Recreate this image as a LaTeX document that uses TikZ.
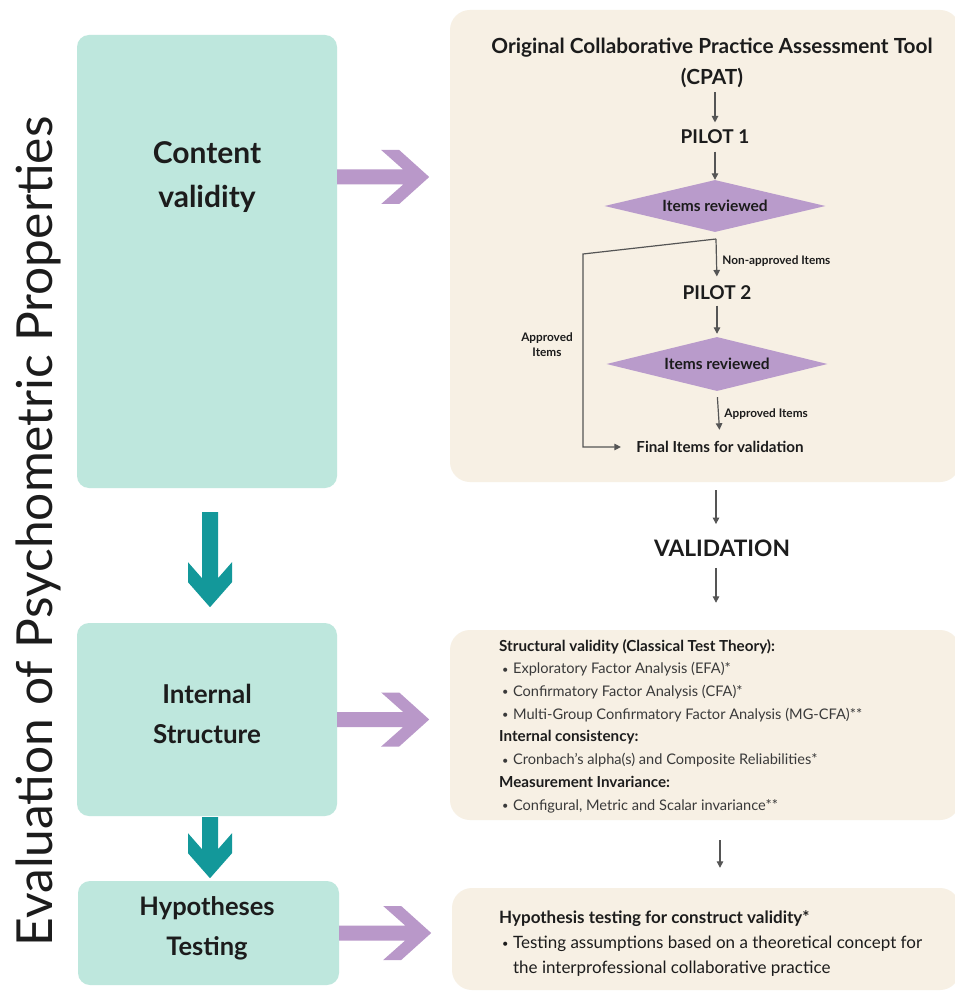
\documentclass[tikz,border=0pt]{standalone}
\usepackage{fontspec}
\setmainfont{Lato}
\usetikzlibrary{arrows.meta,shapes.geometric}

\definecolor{mint}{HTML}{BEE7DD}
\definecolor{tealarrow}{HTML}{13989A}
\definecolor{lilac}{HTML}{B998C9}
\definecolor{decisionlilac}{HTML}{B99BCB}
\definecolor{sand}{HTML}{F7F0E4}
\definecolor{ink}{HTML}{1C1C1C}
\definecolor{softink}{HTML}{3A3A3A}
\definecolor{flowgray}{HTML}{555555}

% wide right-pointing arrow: shaft plus chevron head, starting at #1
\newcommand\fatright[1]{\fill[lilac] #1 ++(0,-7.5) -- ++(66,0) -- ++(-22,-19.5) -- ++(18,0) -- ++(30,27) -- ++(-30,27) -- ++(-18,0) -- ++(22,-19.5) -- ++(-66,0) -- cycle;}
% wide downward arrow starting at #1, shaft length #2
\newcommand\fatdown[2]{\fill[tealarrow] #1 ++(-8,0) -- ++(16,0) -- ++(0,#2) -- ++(14,-16) -- ++(0,20) -- ++(-22,25) -- ++(-22,-25) -- ++(0,-20) -- ++(14,16) -- cycle;}
% small list bullet and the matching indent
\newcommand\itembullet{\hspace*{3pt}\raisebox{0.6pt}{\fontsize{11}{11}\selectfont•}\hspace{4.5pt}}
\newcommand\bulletgap{\hspace*{3pt}\phantom{\fontsize{11}{11}\selectfont•}\hspace{4.5pt}}
% bold sub-heading inside a details panel
\newcommand\subhead[1]{{\color{ink}\bfseries\fontsize{15.2}{22.7}\selectfont #1}}

\begin{document}
\begin{tikzpicture}[x=1pt,y=-1pt,
  every node/.style={text=ink},
  stage/.style={fill=mint, rounded corners=12pt, inner sep=0pt},
  panel/.style={fill=sand, rounded corners=20pt, inner sep=0pt},
  stagetext/.style={font=\bfseries\fontsize{26}{40}\selectfont, align=center},
  flow/.style={draw=flowgray, line width=1.2pt, -{Triangle[length=6.5pt,width=6.5pt]}},
  decision/.style={diamond, aspect=4.25, fill=decisionlilac, inner sep=0pt, font=\bfseries\fontsize{15.5}{17}\selectfont},
  steplabel/.style={font=\bfseries\fontsize{11.8}{15}\selectfont},
  heading/.style={font=\bfseries\fontsize{19}{21}\selectfont}]

\fill[white] (0,0) rectangle (954,992);
\useasboundingbox (0,0) rectangle (954,992);

% vertical title
\node[rotate=90, anchor=base, font=\fontsize{49.7}{50}\selectfont] (title) at (52,531.5) {Evaluation of Psychometric Properties};

% stages on the left
\node[stage, minimum width=260pt, minimum height=453pt] (cv) at (207,261.5) {};
\node[stage, minimum width=260pt, minimum height=193pt] (is) at (207,719.5) {};
\node[stage, minimum width=261pt, minimum height=104pt] (ht) at (208.5,933) {};
\node[stagetext, font=\bfseries\fontsize{30}{44}\selectfont] (cvtext) at (207,177) {Content\\validity};
\node[stagetext] (istext) at (207,714) {Internal\\Structure};
\node[stagetext, font=\bfseries\fontsize{25.5}{40}\selectfont] (httext) at (207,928) {Hypotheses\\Testing};

% panels on the right
\node[panel, minimum width=510pt, minimum height=472pt] (pa) at (705,246) {};
\node[panel, minimum width=510pt, minimum height=190pt] (pb) at (705,725) {};
\node[panel, minimum width=508pt, minimum height=102pt] (pc) at (706,939) {};

% links between stages and panels
\fatright{(cv.east |- cvtext)}
\fatright{(is.east)}
\fatright{(ht.east)}
\fatdown{([xshift=3pt,yshift=-24pt]cv.south)}{66}
\fatdown{([xshift=3pt,yshift=-1pt]is.south)}{32}

% content validity flow
\node[font=\bfseries\fontsize{20.8}{30.5}\selectfont, align=center] (cpat) at (712,63) {Original Collaborative Practice Assessment Tool\\(CPAT)};
\node[heading] (p1) at (715,137) {PILOT 1};
\node[decision, minimum width=221pt, minimum height=52pt] (d1) at (715,206) {Items reviewed};
\coordinate (split) at (716,239);
\coordinate (bend) at (583,254);
\node[heading] (p2) at (717,293) {PILOT 2};
\node[decision, minimum width=221pt, minimum height=54pt] (d2) at (717,364) {Items reviewed};
\node[font=\bfseries\fontsize{15.2}{17}\selectfont] (final) at (720,447) {Final Items for validation};
\node[steplabel, align=center] (appr) at (547,345) {Approved\\Items};

\draw[flow, shorten <=1pt, shorten >=4pt] (p1 |- cpat.south) -- (p1.north);
\draw[flow, shorten <=4pt] (p1.south) -- (d1.north);
\draw[flow, shorten >=6pt] (split) -- (p2.north) node[steplabel, midway, right, xshift=2pt] {Non-approved Items};
\draw[flow, shorten >=12pt] (split) -- (bend) |- (final.west);
\draw[flow, shorten <=2pt, shorten >=3pt] (p2.south) -- (d2.north);
\draw[flow, shorten <=6pt, shorten >=8pt] (d2.south) -- (final.north) node[steplabel, midway, right, xshift=2pt] {Approved Items};

% validation
\node[font=\bfseries\fontsize{22.7}{24}\selectfont] (val) at (722,548) {VALIDATION};
\draw[flow, shorten <=8pt, shorten >=12pt] (pa.south -| split) -- (split |- val.north);
\draw[flow, shorten <=8pt, shorten >=27pt] (split |- val.south) -- (split |- pb.north);
\draw[flow, shorten <=20pt, shorten >=20pt] (pb.south -| final) -- (pc.north -| final);

% internal structure details
\node[anchor=north west, align=left, inner sep=0pt, text=softink, font=\fontsize{14.6}{22.7}\selectfont] (pbtext) at (499,639) {%
\subhead{Structural validity (Classical Test Theory):}\\
\itembullet Exploratory Factor Analysis (EFA)*\\
\itembullet Confirmatory Factor Analysis (CFA)*\\
\itembullet Multi-Group Confirmatory Factor Analysis (MG-CFA)**\\
\subhead{Internal consistency:}\\
\itembullet Cronbach's alpha(s) and Composite Reliabilities*\\
\subhead{Measurement Invariance:}\\
\itembullet Configural, Metric and Scalar invariance**};

% hypotheses testing details
\node[anchor=north west, align=left, inner sep=0pt, font=\fontsize{17}{25}\selectfont] (pctext) at (499,910) {%
{\bfseries Hypothesis testing for construct validity*}\\
\itembullet Testing assumptions based on a theoretical concept for\\
\bulletgap the interprofessional collaborative practice};

\end{tikzpicture}
\end{document}
